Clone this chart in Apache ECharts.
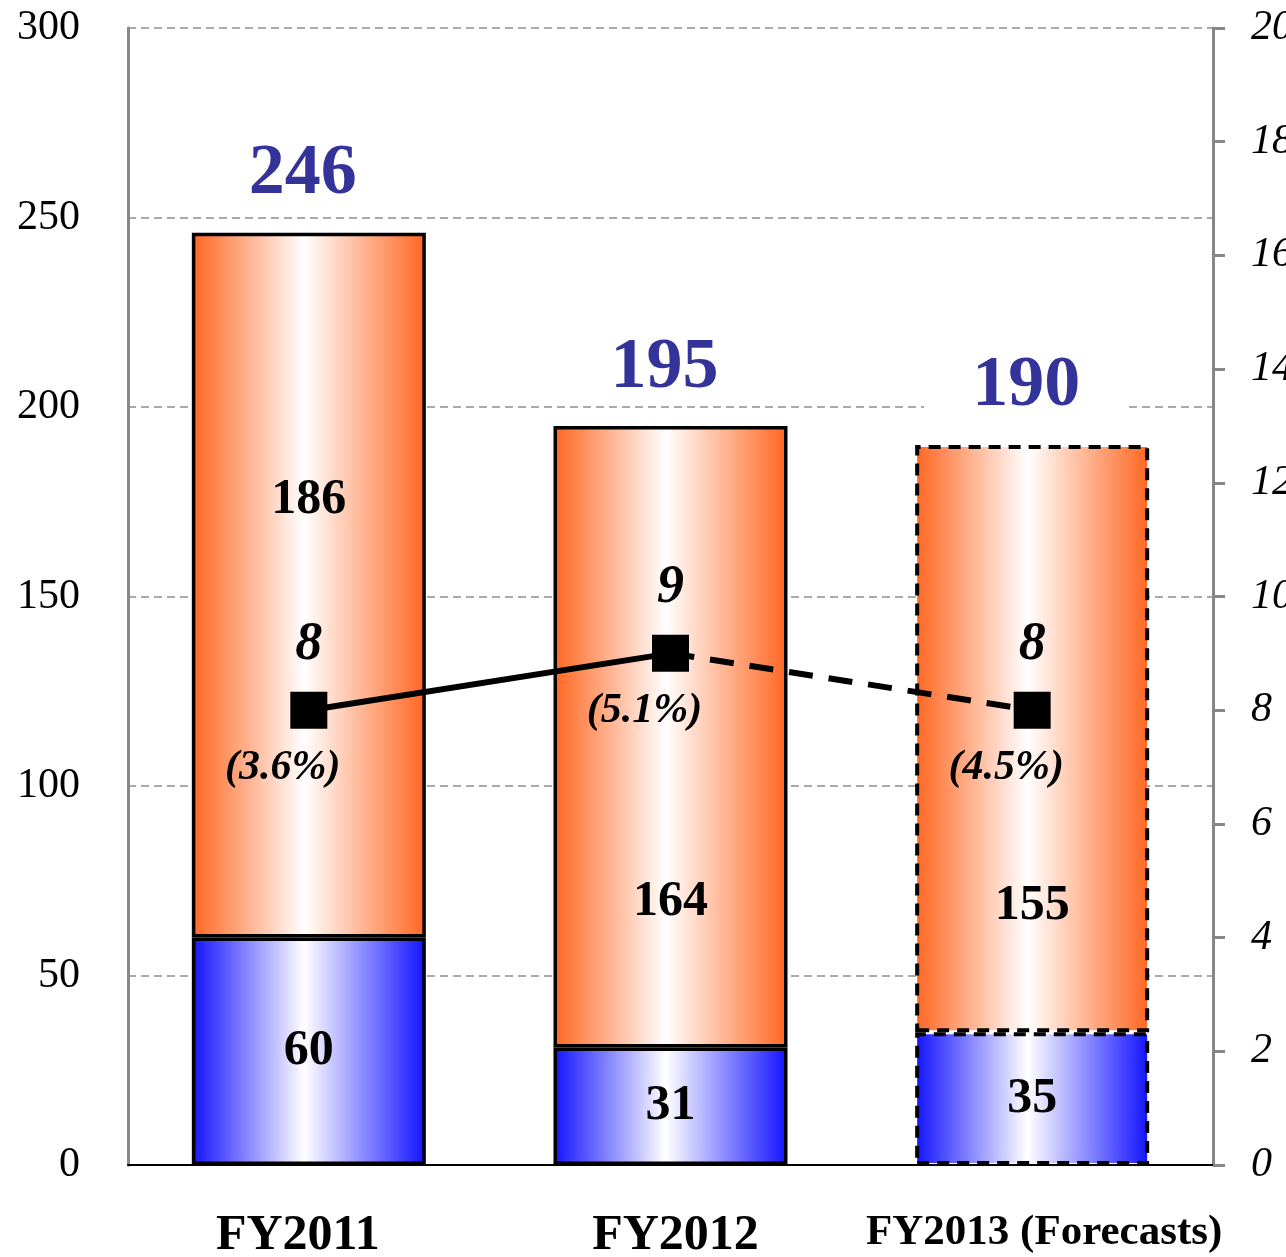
<!DOCTYPE html>
<html>
<head>
<meta charset="utf-8">
<title>Fiscal year results</title>
<script src="https://cdn.jsdelivr.net/npm/echarts@6/dist/echarts.min.js"></script>
<style>
  html, body { margin: 0; padding: 0; background: #ffffff; overflow: hidden; }
  #chart { width: 1286px; height: 1257px; }
</style>
</head>
<body>
<div id="chart"></div>
<script>
// Fiscal years on the category axis
const categories = ['FY2011', 'FY2012', 'FY2013 (Forecasts)'];
const isForecast = [false, false, true];

// Stacked bar values (left axis)
const lowerValues = [60, 31, 35];
const upperValues = [186, 164, 155];

// Line values (right axis) and their ratio labels
const lineValues = [8, 9, 8];
const ratioLabels = ['(3.6%)', '(5.1%)', '(4.5%)'];

// Axis tick setup
const leftAxis = { min: 0, max: 300, interval: 50 };
const rightAxis = { min: 0, max: 20, interval: 2 };

// Bar totals shown above each stack
const totals = lowerValues.map((v, i) => v + upperValues[i]);

// Vertical nudges for the upper segment labels so they clear the line labels
const upperLabelShift = [-85, 165, 167];
// Small horizontal nudges for the category captions
const captionPadding = [[0, 22, 0, 0], [0, 0, 0, 10], [0, 0, 0, 24]];

const serif = '"Liberation Serif", "Times New Roman", serif';

function hGradient(edge) {
  return new echarts.graphic.LinearGradient(0, 0, 1, 0, [
    { offset: 0, color: edge },
    { offset: 0.48, color: '#ffffff' },
    { offset: 1, color: edge }
  ]);
}

const orangeFill = hGradient('#ff6620');
const blueFill = hGradient('#1212ff');

function barData(values, fill) {
  return values.map((v, i) => ({
    value: v,
    itemStyle: {
      color: fill,
      borderColor: '#000',
      borderWidth: isForecast[i] ? 4 : 3.5,
      borderType: isForecast[i] ? [12, 8] : 'solid'
    }
  }));
}

const chart = echarts.init(document.getElementById('chart'), null, { renderer: 'canvas' });

const option = {
  animation: false,
  backgroundColor: '#ffffff',
  grid: {
    left: 128, right: 73, top: 28, bottom: 92,
    containLabel: false,
    outerBoundsMode: 'none'
  },
  xAxis: {
    type: 'category',
    data: categories.map((c, i) => ({
      value: c,
      textStyle: {
        fontSize: isForecast[i] ? 43 : 50,
        padding: captionPadding[i]
      }
    })),
    axisLine: { show: true, lineStyle: { color: '#000', width: 2 } },
    axisTick: { show: false },
    axisLabel: {
      interval: 0,
      hideOverlap: false,
      margin: 46,
      color: '#000',
      fontFamily: serif,
      fontWeight: 'bold',
      fontSize: 50
    }
  },
  yAxis: [
    {
      type: 'value',
      min: leftAxis.min, max: leftAxis.max, interval: leftAxis.interval,
      position: 'left',
      axisLine: { show: true, lineStyle: { color: '#888', width: 3 } },
      axisTick: { show: false },
      axisLabel: { margin: 48, color: '#000', fontFamily: serif, fontSize: 42 },
      splitLine: { show: true, lineStyle: { color: '#aaa', width: 2, type: [8, 5] } }
    },
    {
      type: 'value',
      min: rightAxis.min, max: rightAxis.max, interval: rightAxis.interval,
      position: 'right',
      axisLine: { show: true, lineStyle: { color: '#888', width: 3 } },
      axisTick: { show: true, inside: false, length: 12, lineStyle: { color: '#888', width: 3 } },
      axisLabel: {
        margin: 38, color: '#000', fontFamily: serif, fontStyle: 'italic', fontSize: 42
      },
      splitLine: { show: false }
    }
  ],
  series: [
    {
      name: 'lower',
      type: 'bar',
      stack: 'total',
      barWidth: '64.7%',
      data: barData(lowerValues, blueFill),
      label: {
        show: true,
        position: 'inside',
        color: '#000',
        fontFamily: serif,
        fontWeight: 'bold',
        fontSize: 50
      },
      z: 2
    },
    {
      name: 'upper',
      type: 'bar',
      stack: 'total',
      barWidth: '64.7%',
      data: barData(upperValues, orangeFill).map((d, i) => Object.assign(d, {
        label: { offset: [0, upperLabelShift[i]] }
      })),
      label: {
        show: true,
        position: 'inside',
        color: '#000',
        fontFamily: serif,
        fontWeight: 'bold',
        fontSize: 50
      },
      z: 2
    },
    {
      name: 'total',
      type: 'scatter',
      yAxisIndex: 0,
      symbolSize: 0,
      data: totals,
      silent: true,
      itemStyle: { opacity: 1 },
      label: {
        show: true,
        position: 'inside',
        offset: [-6, -58],
        color: '#333399',
        fontFamily: serif,
        fontWeight: 'bold',
        fontSize: 72,
        backgroundColor: '#ffffff',
        padding: [0, 48, 0, 48]
      },
      z: 3
    },
    {
      name: 'ratio-actual',
      type: 'line',
      yAxisIndex: 1,
      data: lineValues.map((v, i) => (isForecast[i] ? null : v)),
      showSymbol: false,
      lineStyle: { color: '#000', width: 6, type: 'solid' },
      z: 4
    },
    {
      name: 'ratio-forecast',
      type: 'line',
      yAxisIndex: 1,
      data: lineValues.map((v, i) => (isForecast[i] || isForecast[i + 1] ? v : null)),
      showSymbol: false,
      lineStyle: { color: '#000', width: 6, type: [24, 16] },
      z: 4
    },
    {
      name: 'ratio-markers',
      type: 'scatter',
      yAxisIndex: 1,
      data: lineValues,
      symbol: 'rect',
      symbolSize: 37,
      itemStyle: { color: '#000', opacity: 1 },
      label: {
        show: true,
        position: 'inside',
        offset: [0, -65],
        color: '#000',
        fontFamily: serif,
        fontWeight: 'bold',
        fontStyle: 'italic',
        fontSize: 54
      },
      z: 5
    },
    {
      name: 'ratio-percent',
      type: 'scatter',
      yAxisIndex: 1,
      data: lineValues,
      symbolSize: 0,
      silent: true,
      itemStyle: { opacity: 1 },
      label: {
        show: true,
        position: 'inside',
        offset: [-26, 58],
        formatter: (p) => ratioLabels[p.dataIndex],
        color: '#000',
        fontFamily: serif,
        fontWeight: 'bold',
        fontStyle: 'italic',
        fontSize: 42
      },
      z: 5
    }
  ]
};

chart.setOption(option);
</script>
</body>
</html>
